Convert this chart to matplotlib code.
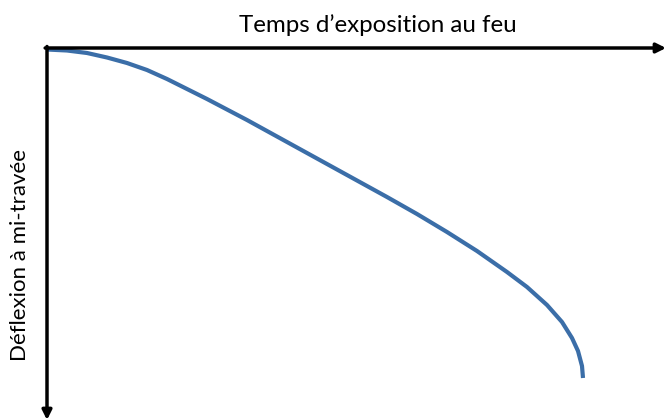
import matplotlib
matplotlib.use('Agg')
import matplotlib.pyplot as plt

# schematic curve: fire exposure time vs midspan deflection (arbitrary units)
temps = [0, 20, 40, 60, 80, 100, 120, 140, 160, 180, 200, 220, 250, 280, 310, 340, 370,
         400, 430, 460, 480, 500, 515, 525, 531, 535, 536]
deflexion = [1.5, 2.5, 5, 9.5, 15, 22, 31, 41, 51, 61.5, 72, 83, 99.5, 116, 132.5, 149, 166,
             184, 203, 224, 239, 257, 274, 290, 303, 318, 330]

titre_x = 'Temps d\u2019exposition au feu'
titre_y = 'Déflexion à mi-travée'

plt.rcParams['font.family'] = ['Lato', 'DejaVu Sans']

fig = plt.figure(figsize=(6.66, 4.2), dpi=100)
ax = fig.add_axes([47/666, 0, 619/666, 372/420])
ax.set_xlim(0, 619)
ax.set_ylim(372, 0)
ax.axis('off')

ax.plot(temps, deflexion, color='#3b6ea8', lw=3, solid_capstyle='butt', clip_on=False)

# axes drawn as arrows
ax.annotate('', xy=(1.0, 1.0), xytext=(-0.003, 1.0), xycoords='axes fraction',
            arrowprops=dict(arrowstyle='-|>', color='black', lw=2.5, mutation_scale=14, shrinkA=0, shrinkB=0))
ax.annotate('', xy=(0.0, 0.0), xytext=(0.0, 1.004), xycoords='axes fraction',
            arrowprops=dict(arrowstyle='-|>', color='black', lw=2.5, mutation_scale=14, shrinkA=0, shrinkB=0))

fig.text(378/666, 1 - 25/420, titre_x, ha='center', va='center', fontsize=17.4)
fig.text(20/666, 1 - 255/420, titre_y, ha='center', va='center', rotation=90, fontsize=16)

fig.savefig('out.png', dpi=100)
